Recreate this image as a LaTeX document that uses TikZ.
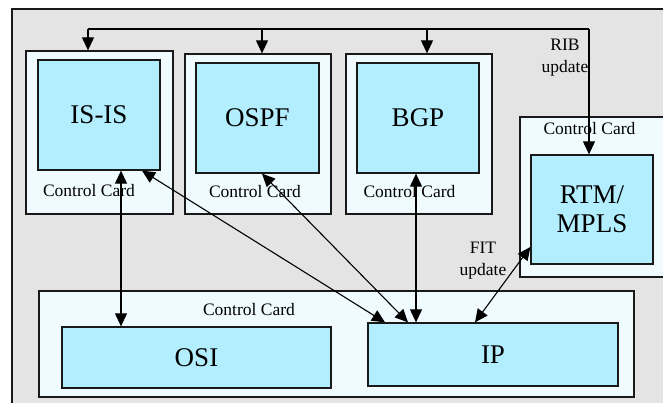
\documentclass[tikz,border=0pt]{standalone}
\usepackage{fontspec}
\setmainfont{Liberation Serif}
\usetikzlibrary{arrows.meta}
\definecolor{panelgray}{HTML}{E4E4E4}
\definecolor{cardfill}{HTML}{F0FBFF}
\definecolor{modfill}{HTML}{B3EEFF}

\begin{document}
\begin{tikzpicture}[x=1pt,y=-1pt,
  card/.style={draw=black!90, line width=1.3pt, fill=cardfill, inner sep=0pt},
  module/.style={draw=black!90, line width=1.3pt, fill=modfill, inner sep=0pt,
    font=\fontsize{27}{29}\selectfont, align=center},
  cardlabel/.style={font=\fontsize{17.5}{20}\selectfont, inner sep=0pt},
  note/.style={font=\fontsize{17.5}{22}\selectfont, align=center, inner sep=0pt},
  link/.style={line width=1.1pt, draw=black},
  onearrow/.style={link, -{Triangle[length=13pt,width=12pt]}},
  twoarrow/.style={link, {Triangle[length=13pt,width=12pt]}-{Triangle[length=13pt,width=12pt]}}]
\useasboundingbox (0,0) rectangle (663,403);
\clip (0,0) rectangle (663,403);

% chassis panel
\draw[draw=black!90, line width=1.3pt, fill=panelgray] (12,9) rectangle (690,430);

% upper control cards
\node[card, minimum width=147pt, minimum height=163pt] (card1) at (99.5,132.5) {};
\node[module, minimum width=122pt, minimum height=110pt] (isis) at (99,115) {IS-IS};
\node[cardlabel] (lab1) at (89,191) {Control Card};

\node[card, minimum width=146pt, minimum height=160pt] (card2) at (258,134) {};
\node[module, minimum width=123pt, minimum height=110pt] (ospf) at (257.5,118) {OSPF};
\node[cardlabel] (lab2) at (255,192) {Control Card};

\node[card, minimum width=146pt, minimum height=160pt] (card3) at (419,134) {};
\node[module, minimum width=122pt, minimum height=110pt] (bgp) at (418,118) {BGP};
\node[cardlabel] (lab3) at (409.5,192) {Control Card};

% RTM card
\node[card, minimum width=170pt, minimum height=160pt] (card4) at (605,197) {};
\node[module, minimum width=122pt, minimum height=109pt] (rtm) at (592,209.5) {RTM/\\MPLS};
\node[cardlabel] (lab4) at (589.5,129) {Control Card};

% lower control card
\node[card, minimum width=595pt, minimum height=106pt] (card5) at (336.5,344) {};
\node[module, minimum width=269pt, minimum height=61pt] (osi) at (196.5,357.5) {OSI};
\node[module, minimum width=250pt, minimum height=63pt] (ip) at (493,354.5) {IP};
\node[cardlabel] (lab5) at (249,310) {Control Card};

% RIB update distribution bus
\coordinate (busL) at (88,29);
\coordinate (busO) at (262,29);
\coordinate (busB) at (427,29);
\coordinate (busR) at (589,29);
\draw[link] (busL) -- (busR);
\draw[onearrow] (busL) -- (busL |- card1.north);
\draw[onearrow] (busO) -- (busO |- card2.north);
\draw[onearrow] (busB) -- (busB |- card3.north);
\draw[onearrow] (busR) -- (busR |- rtm.north);
\node[note] (rib) at (565,58) {RIB\\update};

% routing protocol links
\draw[twoarrow] ([xshift=22pt]isis.south) -- ([xshift=-75.5pt]osi.north);
\draw[twoarrow] ([xshift=43pt]isis.south) -- ([xshift=-108pt]ip.north);
\draw[twoarrow] ([xshift=4.5pt]ospf.south) -- ([xshift=-85pt]ip.north);
\draw[twoarrow] ([xshift=-2pt]bgp.south) -- ([xshift=-77pt]ip.north);
\draw[twoarrow] ([yshift=-37.5pt]rtm.west) -- ([xshift=-18pt]ip.north);
\node[note] (fit) at (483,261) {FIT\\update};
\end{tikzpicture}
\end{document}
